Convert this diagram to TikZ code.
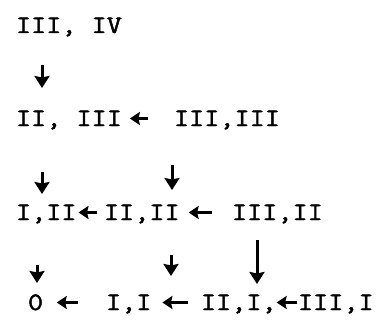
\documentclass[tikz,border=0pt]{standalone}
\usepackage{fontspec}
\setmonofont[FakeStretch=1.175,FakeBold=1.8]{Latin Modern Mono}
\usetikzlibrary{arrows.meta}
\tikzset{
  x=1pt, y=-1pt,
  lbl/.style={anchor=base west, inner sep=0pt, outer sep=0pt,
    font=\ttfamily\fontsize{25pt}{26pt}\selectfont,
    text height=15pt, text depth=0pt},
  varr/.style={line width=3pt, -{Stealth[length=12pt,width=15pt,inset=1.5pt]}},
  harr/.style={line width=2.6pt, -{Stealth[length=10pt,width=13pt,inset=1.5pt]}},
}
\begin{document}
\begin{tikzpicture}
\useasboundingbox (0,0) rectangle (380,329);
% row 1
\node[lbl] (r1) at (16,33) {III, IV};
% row 2
\node[lbl] (r2a) at (16,126) {II, III};
\node[lbl] (r2b) at (174,126) {III,III};
% row 3
\node[lbl] (r3a) at (16,220) {I,II};
\node[lbl] (r3b) at (104,220) {II,II};
\node[lbl] (r3c) at (232,220) {III,II};
% row 4
\node[lbl] (r4a) at (28,310) {0};
\node[lbl] (r4b) at (106,310) {I,I};
\node[lbl] (r4c) at (201,310) {II,I,};
\node[lbl] (r4d) at (298,310) {III,I};
% horizontal arrows
\draw[harr, shorten <=26pt, shorten >=8pt] (r2b.west) -- (r2a.east);
\draw[harr, shorten <=7pt, shorten >=2pt] (r3b.west) -- (r3a.east);
\draw[harr, shorten <=20pt, shorten >=9pt] (r3c.west) -- (r3b.east);
\draw[harr, shorten <=28pt, shorten >=13.6pt] (r4b.west) -- (r4a.east);
\draw[harr, shorten <=13pt, shorten >=11pt] (r4c.west) -- (r4b.east);
\draw[harr, shorten <=1pt, shorten >=0pt] (r4d.west) -- (r4c.east);
% vertical arrows
\draw[varr, shorten <=32pt, shorten >=23pt] ([xshift=26pt]r1.south west) -- ([xshift=26pt]r2a.north west);
\draw[varr, shorten <=46pt, shorten >=11pt] ([xshift=26pt]r2a.south west) -- ([xshift=26pt]r3a.north west);
\draw[varr, shorten <=39pt, shorten >=15pt] ([xshift=-2pt]r2b.south west) -- ([xshift=68pt]r3b.north west);
\draw[varr, shorten <=45pt, shorten >=12pt] ([xshift=21pt]r3a.south west) -- ([xshift=9pt]r4a.north west);
\draw[varr, shorten <=35pt, shorten >=19pt] ([xshift=67pt]r3b.south west) -- ([xshift=65pt]r4b.north west);
\draw[varr, shorten <=20pt, shorten >=11pt] ([xshift=25pt]r3c.south west) -- ([xshift=56pt]r4c.north west);
\end{tikzpicture}
\end{document}
